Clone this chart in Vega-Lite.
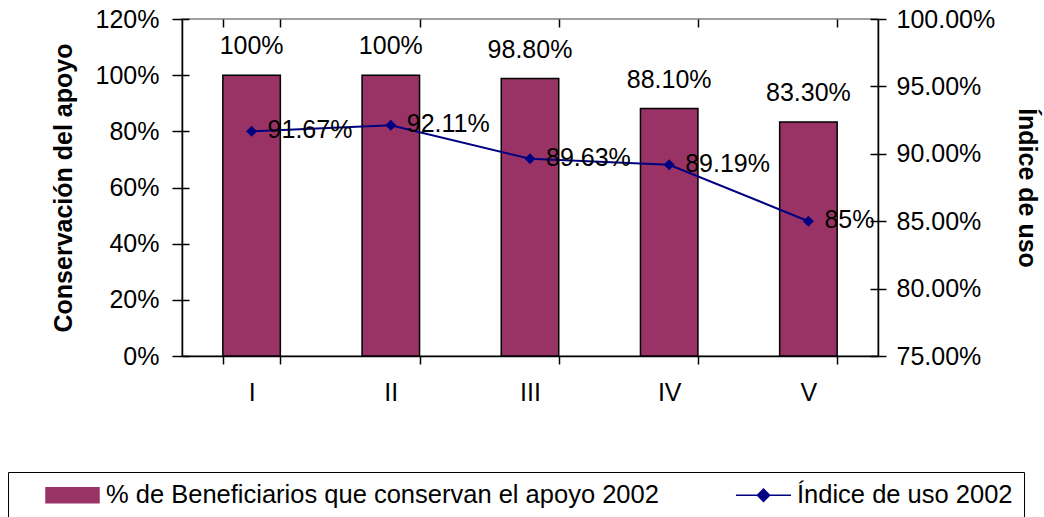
{
  "$schema": "https://vega.github.io/schema/vega-lite/v6.json",
  "width": 696,
  "height": 337,
  "autosize": {"type": "none"},
  "padding": {"left": 182, "top": 19, "right": 166, "bottom": 161},
  "background": "white",
  "config": {
    "font": "Liberation Sans",
    "view": {"stroke": "#808080", "strokeWidth": 1.5},
    "axis": {
      "domainColor": "black", "tickColor": "black", "domainWidth": 1.5, "tickWidth": 1.5,
      "labelColor": "black", "titleColor": "black", "labelFontSize": 25, "titleFontSize": 25,
      "titleFontWeight": "bold", "grid": false, "labelFont": "Liberation Sans", "titleFont": "Liberation Sans"
    },
    "legend": {"labelFont": "Liberation Sans"}
  },
  "data": {"values": [
    {"cat": "I", "cons": 1.0, "uso": 0.9167, "consLab": "100%", "usoLab": "91.67%"},
    {"cat": "II", "cons": 1.0, "uso": 0.9211, "consLab": "100%", "usoLab": "92.11%"},
    {"cat": "III", "cons": 0.988, "uso": 0.8963, "consLab": "98.80%", "usoLab": "89.63%"},
    {"cat": "IV", "cons": 0.881, "uso": 0.8919, "consLab": "88.10%", "usoLab": "89.19%"},
    {"cat": "V", "cons": 0.833, "uso": 0.85, "consLab": "83.30%", "usoLab": "85%"}
  ]},
  "layer": [
    {
      "mark": {"type": "bar", "stroke": "black", "strokeWidth": 1.5},
      "encoding": {
        "x": {"field": "cat", "type": "nominal", "sort": null,
              "scale": {"paddingInner": 0.587, "paddingOuter": 0.2935},
              "axis": {"title": null, "labelAngle": 0, "tickBand": "extent", "tickSize": 8, "labelPadding": 16}},
        "y": {"field": "cons", "type": "quantitative", "scale": {"domain": [0, 1.2], "nice": false, "zero": true},
              "axis": {"orient": "left", "values": [0, 0.2, 0.4, 0.6, 0.8, 1.0, 1.2], "format": ".0%", "tickSize": 10,
                       "labelPadding": 13, "title": "Conservación del apoyo", "titlePadding": 19}},
        "color": {"datum": "% de Beneficiarios que conservan el apoyo 2002", "type": "nominal",
                  "scale": {"domain": ["% de Beneficiarios que conservan el apoyo 2002", "Índice de uso 2002"], "range": ["#993366", "#000080"]},
                  "legend": {
                    "orient": "none", "legendX": -174, "legendY": 453, "direction": "horizontal", "title": null,
                    "strokeColor": "black", "fillColor": "white", "padding": 11,
                    "labelFontSize": 25.5, "labelColor": "black", "labelOffset": 6, "labelLimit": 1000,
                    "symbolSize": 2809, "symbolStrokeWidth": 1.5, "symbolOffset": 26, "columnPadding": 51, "clipHeight": 24
                  }}
      }
    },
    {
      "mark": {"type": "text", "baseline": "alphabetic", "dy": -21, "fontSize": 25, "color": "black"},
      "encoding": {
        "x": {"field": "cat", "type": "nominal", "sort": null,
              "axis": {"title": null, "labels": false, "domain": false, "tickBand": "extent", "tickSize": -8}},
        "y": {"field": "cons", "type": "quantitative", "scale": {"domain": [0, 1.2], "nice": false},
              "axis": {"orient": "left", "values": [0, 0.2, 0.4, 0.6, 0.8, 1.0, 1.2], "labels": false, "domain": false, "tickSize": -7, "title": null}},
        "text": {"field": "consLab"}
      }
    },
    {
      "mark": {"type": "line", "strokeWidth": 2, "point": {"shape": "diamond", "size": 121, "filled": true}},
      "encoding": {
        "x": {"field": "cat", "type": "nominal", "sort": null, "axis": null},
        "y": {"field": "uso", "type": "quantitative", "scale": {"domain": [0.75, 1.0], "nice": false, "zero": false},
              "axis": {"orient": "right", "values": [0.75, 0.8, 0.85, 0.9, 0.95, 1.0], "format": ".2%", "tickSize": 8,
                       "labelPadding": 10, "title": "Índice de uso", "titlePadding": 19}},
        "color": {"datum": "Índice de uso 2002", "type": "nominal"}
      }
    },
    {
      "mark": {"type": "text", "align": "left", "baseline": "alphabetic", "dx": 16, "dy": 7, "fontSize": 25, "color": "black"},
      "encoding": {
        "x": {"field": "cat", "type": "nominal", "sort": null, "axis": null},
        "y": {"field": "uso", "type": "quantitative", "scale": {"domain": [0.75, 1.0], "nice": false, "zero": false},
              "axis": {"orient": "right", "values": [0.75, 0.8, 0.85, 0.9, 0.95, 1.0], "labels": false, "domain": false, "tickSize": -8, "title": null}},
        "text": {"field": "usoLab"}
      }
    },
    {
      "transform": [{"filter": "false"}],
      "mark": {"type": "point", "filled": true},
      "encoding": {
        "x": {"field": "cat", "type": "nominal", "sort": null, "axis": null},
        "y": {"field": "uso", "type": "quantitative", "scale": {"domain": [0.75, 1.0], "nice": false, "zero": false}, "axis": null},
        "shape": {"datum": "Índice de uso 2002", "type": "nominal",
                  "scale": {"domain": ["% de Beneficiarios que conservan el apoyo 2002", "Índice de uso 2002"],
                            "range": ["M-1,-0.28L1,-0.28L1,0.28L-1,0.28Z", "M-1.04,0L1.04,0M0,-0.23L0.23,0L0,0.23L-0.23,0Z"]},
                  "legend": {
                    "orient": "none", "legendX": -174, "legendY": 453, "direction": "horizontal", "title": null,
                    "strokeColor": "black", "fillColor": "white", "padding": 11,
                    "labelFontSize": 25.5, "labelColor": "black", "labelOffset": 6, "labelLimit": 1000,
                    "symbolSize": 2809, "symbolStrokeWidth": 1.5, "symbolOffset": 26, "columnPadding": 51, "clipHeight": 24
                  }},
        "stroke": {"datum": "Índice de uso 2002", "type": "nominal",
                  "scale": {"domain": ["% de Beneficiarios que conservan el apoyo 2002", "Índice de uso 2002"],
                            "range": ["#000000", "#000080"]},
                  "legend": {
                    "orient": "none", "legendX": -174, "legendY": 453, "direction": "horizontal", "title": null,
                    "strokeColor": "black", "fillColor": "white", "padding": 11,
                    "labelFontSize": 25.5, "labelColor": "black", "labelOffset": 6, "labelLimit": 1000,
                    "symbolSize": 2809, "symbolStrokeWidth": 1.5, "symbolOffset": 26, "columnPadding": 51, "clipHeight": 24
                  }}
      }
    }
  ],
  "resolve": {"scale": {"y": "independent"}, "axis": {"x": "independent", "y": "independent"}}
}
